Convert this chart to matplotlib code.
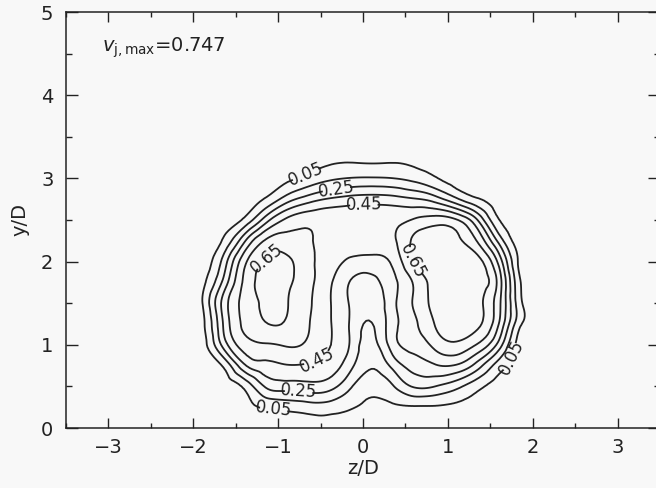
import numpy as np
import matplotlib
matplotlib.use("Agg")
import matplotlib.pyplot as plt
import matplotlib.tri as mtri

# ---- data ----
z_nodes = [-2.15, -1.90, -1.65, -1.40, -1.15, -0.90, -0.65, -0.40, -0.15, 0.10,
           0.35, 0.60, 0.85, 1.10, 1.35, 1.60, 1.85, 2.10, 2.35]
y_nodes = [0.0, 0.25, 0.5, 0.75, 1.0, 1.25, 1.5, 1.75, 2.0, 2.25, 2.5, 2.75, 3.0, 3.25, 3.5]

v_y000 = [0, 0, 0, 0, 0, 0, 0, 0, 0, 0, 0, 0, 0, 0, 0, 0, 0, 0, 0]
v_y025 = [0, 0, 0, 0.02, 0.06, 0.08, 0.10, 0.10, 0.06, 0.03, 0.035, 0.04, 0.04, 0.03, 0.01, 0, 0, 0, 0]
v_y050 = [0, 0, 0, 0.07, 0.26, 0.30, 0.31, 0.29, 0.165, 0.08, 0.14, 0.26, 0.25, 0.18, 0.08, 0.01, 0, 0, 0]
v_y075 = [0, 0, 0.06, 0.33, 0.42, 0.445, 0.44, 0.41, 0.28, 0.16, 0.28, 0.39, 0.44, 0.44, 0.30, 0.10, 0, 0, 0]
v_y100 = [0, 0, 0.28, 0.50, 0.54, 0.56, 0.53, 0.455, 0.34, 0.21, 0.40, 0.49, 0.58, 0.63, 0.54, 0.31, 0, 0, 0]
v_y125 = [0, 0.02, 0.35, 0.57, 0.645, 0.64, 0.56, 0.46, 0.34, 0.245, 0.41, 0.53, 0.655, 0.72, 0.67, 0.45, 0.07, 0, 0]
v_y150 = [0, 0.04, 0.38, 0.58, 0.67, 0.655, 0.57, 0.46, 0.34, 0.28, 0.42, 0.56, 0.69, 0.75, 0.68, 0.48, 0.08, 0, 0]
v_y175 = [0, 0.02, 0.27, 0.57, 0.68, 0.67, 0.58, 0.47, 0.345, 0.32, 0.42, 0.56, 0.70, 0.75, 0.70, 0.51, 0.06, 0, 0]
v_y200 = [0, 0, 0.18, 0.52, 0.655, 0.67, 0.58, 0.50, 0.43, 0.41, 0.47, 0.66, 0.72, 0.74, 0.69, 0.42, 0.02, 0, 0]
v_y225 = [0, 0, 0.06, 0.33, 0.56, 0.59, 0.56, 0.52, 0.51, 0.52, 0.53, 0.67, 0.70, 0.67, 0.54, 0.22, 0, 0, 0]
v_y250 = [0, 0, 0, 0.07, 0.30, 0.47, 0.52, 0.52, 0.52, 0.52, 0.52, 0.56, 0.60, 0.56, 0.35, 0.055, 0, 0, 0]
v_y275 = [0, 0, 0, 0, 0.06, 0.20, 0.30, 0.36, 0.39, 0.40, 0.39, 0.36, 0.30, 0.17, 0.06, 0, 0, 0, 0]
v_y300 = [0, 0, 0, 0, 0, 0.03, 0.08, 0.13, 0.155, 0.16, 0.152, 0.12, 0.06, 0.01, 0, 0, 0, 0, 0]
v_y325 = [0, 0, 0, 0, 0, 0, 0.01, 0.03, 0.035, 0.03, 0.035, 0.025, 0, 0, 0, 0, 0, 0, 0]
v_y350 = [0, 0, 0, 0, 0, 0, 0, 0, 0, 0, 0, 0, 0, 0, 0, 0, 0, 0, 0]

label_levels = [0.05, 0.25, 0.45, 0.65]
plain_levels = [0.15, 0.35, 0.55]
x_ticks = [-3, -2, -1, 0, 1, 2, 3]
y_ticks = [0, 1, 2, 3, 4, 5]
vmax_text = "0.747"

# ---- figure ----
ink = "#222222"
bg = "#f8f8f8"
fig = plt.figure(figsize=(6.56, 4.88), dpi=100, facecolor=bg)
ax = fig.add_axes([66 / 656, (488 - 428) / 488, (660 - 66) / 656, (428 - 12) / 488])
ax.set_facecolor(bg)

V = np.array([v_y000, v_y025, v_y050, v_y075, v_y100, v_y125, v_y150, v_y175,
              v_y200, v_y225, v_y250, v_y275, v_y300, v_y325, v_y350])
Zg, Yg = np.meshgrid(z_nodes, y_nodes)
tri = mtri.Triangulation(Zg.ravel(), Yg.ravel())
refiner = mtri.UniformTriRefiner(tri)
tri_f, v_f = refiner.refine_field(V.ravel(), subdiv=3)
ax.tricontour(tri_f, v_f, levels=plain_levels, colors=ink, linewidths=1.3)
cs = ax.tricontour(tri_f, v_f, levels=label_levels, colors=ink, linewidths=1.3)

manual = [(-0.68, 3.06), (-0.32, 2.92), (0.01, 2.68), (-1.07, 1.96), (0.60, 2.01),
          (-0.52, 0.77), (-0.76, 0.42), (-1.05, 0.25), (1.76, 0.84)]
ax.clabel(cs, manual=manual, fmt="%.2f", fontsize=12,
          colors=ink, inline=True, inline_spacing=3)

ax.set_xlim(-3.5, 3.5)
ax.set_ylim(0, 5)
ax.set_xticks(x_ticks)
ax.set_yticks(y_ticks)
ax.set_xticks(np.arange(-3.5, 3.6, 0.5), minor=True)
ax.set_yticks(np.arange(0, 5.01, 0.5), minor=True)
ax.tick_params(which="both", direction="in", top=True, right=True, colors=ink,
               labelsize=14, width=1.0)
ax.tick_params(axis="x", which="major", length=7, pad=7)
ax.tick_params(axis="x", which="minor", length=3.5)
ax.tick_params(axis="y", which="major", length=8.5, pad=9)
ax.tick_params(axis="y", which="minor", length=4.5)
for s in ax.spines.values():
    s.set_color(ink)
    s.set_linewidth(1.1)

ax.set_xlabel("z/D", fontsize=14, color=ink, labelpad=2)
ax.set_ylabel("y/D", fontsize=14, color=ink, labelpad=8)

ax.text(-3.08, 4.57, r"$v_{\mathrm{j,max}}$=" + vmax_text, fontsize=14, color=ink,
        ha="left", va="center")

fig.savefig("out.png", dpi=100, facecolor=bg)
